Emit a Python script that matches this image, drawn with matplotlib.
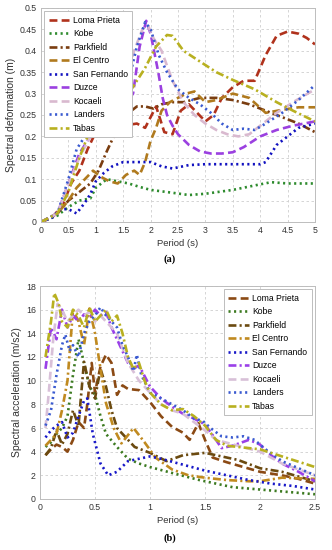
import matplotlib
matplotlib.use("Agg")
import matplotlib.pyplot as plt

NAMES = ["Loma Prieta", "Kobe", "Parkfield", "El Centro", "San Fernando",
         "Duzce", "Kocaeli", "Landers", "Tabas"]

# ---------------- Panel (a): spectral deformation (m) ----------------
A_LOMA_T = [0, 0.2, 0.4, 0.55, 0.7, 0.85, 1.0, 1.2, 1.5, 1.75, 1.9, 2.0, 2.1, 2.25, 2.4, 2.55, 2.7, 2.85,
            3.0, 3.15, 3.3, 3.5, 3.7, 3.9, 4.1, 4.3, 4.5, 4.7, 4.85, 5.0]
A_LOMA_SD = [0, 0.01, 0.04, 0.09, 0.12, 0.17, 0.21, 0.22, 0.225, 0.23, 0.22, 0.245, 0.27, 0.21, 0.205, 0.26,
             0.275, 0.255, 0.235, 0.25, 0.29, 0.315, 0.33, 0.33, 0.39, 0.435, 0.445, 0.44, 0.43, 0.415]
A_KOBE_T = [0, 0.3, 0.5, 0.7, 0.9, 1.0, 1.2, 1.4, 1.6, 1.8, 2.0, 2.3, 2.7, 3.0, 3.5, 4.0, 4.2, 4.5, 5.0]
A_KOBE_SD = [0, 0.015, 0.035, 0.05, 0.055, 0.08, 0.1, 0.095, 0.09, 0.082, 0.075, 0.07, 0.063, 0.066, 0.075,
             0.088, 0.093, 0.09, 0.09]
A_PARK_T = [0, 0.3, 0.5, 0.7, 0.9, 1.05, 1.2, 1.4, 1.6, 1.75, 1.9, 2.05, 2.2, 2.4, 2.6, 2.9, 3.2, 3.5, 3.8,
            4.1, 4.4, 4.7, 5.0]
A_PARK_SD = [0, 0.02, 0.05, 0.07, 0.09, 0.12, 0.165, 0.22, 0.255, 0.27, 0.27, 0.265, 0.275, 0.28, 0.28, 0.29,
             0.29, 0.285, 0.275, 0.26, 0.245, 0.23, 0.21]
A_ELC_T = [0, 0.3, 0.5, 0.65, 0.8, 0.95, 1.1, 1.25, 1.4, 1.55, 1.7, 1.8, 1.9, 2.0, 2.1, 2.2, 2.35, 2.5, 2.65,
           2.8, 3.0, 3.2, 3.5, 3.8, 4.1, 4.4, 4.7, 5.0]
A_ELC_SD = [0, 0.02, 0.05, 0.08, 0.1, 0.12, 0.105, 0.095, 0.09, 0.11, 0.12, 0.11, 0.14, 0.19, 0.22, 0.26, 0.28,
            0.29, 0.3, 0.305, 0.28, 0.285, 0.3, 0.29, 0.255, 0.262, 0.268, 0.268]
A_SANF_T = [0, 0.2, 0.35, 0.5, 0.65, 0.8, 0.9, 1.0, 1.15, 1.3, 1.5, 1.8, 2.0, 2.2, 2.4, 2.7, 3.0, 3.5, 4.0,
            4.1, 4.3, 4.5, 4.7, 5.0]
A_SANF_SD = [0, 0.01, 0.03, 0.03, 0.02, 0.045, 0.065, 0.095, 0.115, 0.13, 0.14, 0.14, 0.14, 0.13, 0.125,
             0.133, 0.135, 0.135, 0.135, 0.14, 0.18, 0.2, 0.22, 0.23]
A_DUZ_T = [0, 0.3, 0.5, 0.7, 0.9, 1.1, 1.3, 1.5, 1.68, 1.8, 1.92, 2.0, 2.14, 2.22, 2.3, 2.4, 2.5, 2.7, 2.9,
           3.1, 3.3, 3.5, 3.7, 4.0, 4.3, 4.6, 5.0]
A_DUZ_SD = [0, 0.02, 0.09, 0.16, 0.2, 0.22, 0.25, 0.27, 0.3, 0.41, 0.47, 0.44, 0.35, 0.29, 0.25, 0.225, 0.205,
            0.18, 0.165, 0.16, 0.16, 0.163, 0.175, 0.2, 0.215, 0.225, 0.235]
A_KOC_T = [0, 0.3, 0.5, 0.7, 0.9, 1.1, 1.3, 1.5, 1.7, 1.85, 1.95, 2.05, 2.2, 2.4, 2.6, 2.8, 3.0, 3.2, 3.4,
           3.6, 3.8, 4.0, 4.3, 4.6, 5.0]
A_KOC_SD = [0, 0.02, 0.09, 0.15, 0.2, 0.22, 0.26, 0.32, 0.4, 0.45, 0.46, 0.43, 0.4, 0.33, 0.28, 0.25, 0.23,
            0.215, 0.205, 0.2, 0.205, 0.225, 0.255, 0.28, 0.31]
A_LAND_T = [0, 0.3, 0.5, 0.65, 0.85, 1.0, 1.2, 1.4, 1.6, 1.75, 1.9, 2.0, 2.15, 2.3, 2.5, 2.7, 2.9, 3.1, 3.3,
            3.5, 3.7, 3.9, 4.1, 4.4, 4.7, 5.0]
A_LAND_SD = [0, 0.02, 0.1, 0.17, 0.21, 0.22, 0.24, 0.27, 0.33, 0.41, 0.467, 0.45, 0.39, 0.35, 0.31, 0.29,
             0.275, 0.255, 0.23, 0.215, 0.218, 0.215, 0.23, 0.255, 0.285, 0.32]
A_TAB_T = [0, 0.3, 0.5, 0.7, 0.85, 1.0, 1.3, 1.6, 1.9, 2.1, 2.3, 2.4, 2.6, 2.9, 3.2, 3.5, 3.9, 4.3, 4.6, 5.0]
A_TAB_SD = [0, 0.02, 0.07, 0.15, 0.2, 0.22, 0.26, 0.3, 0.36, 0.41, 0.437, 0.435, 0.4, 0.375, 0.35, 0.332,
            0.31, 0.28, 0.26, 0.235]

# ---------------- Panel (b): spectral acceleration (m/s2) ----------------
B_LOMA_T = [0.05, 0.1, 0.15, 0.2, 0.25, 0.3, 0.35, 0.4, 0.43, 0.47, 0.5, 0.55, 0.6, 0.65, 0.7, 0.75, 0.8, 0.9,
            1.0, 1.1, 1.2, 1.3, 1.36, 1.44, 1.5, 1.57, 1.7, 1.85, 2.0, 2.2, 2.35, 2.5]
B_LOMA_SA = [3.7, 4.2, 4.6, 4.4, 4.0, 5.0, 6.5, 6.0, 8.0, 11.5, 9.0, 11.2, 12.2, 11.5, 8.8, 9.6, 9.3, 9.2, 8.2,
             7.0, 6.1, 5.6, 5.0, 6.4, 5.0, 3.5, 3.1, 2.7, 2.3, 2.0, 1.7, 1.3]
B_KOBE_T = [0.05, 0.1, 0.15, 0.2, 0.25, 0.3, 0.35, 0.4, 0.45, 0.5, 0.55, 0.6, 0.7, 0.8, 0.9, 1.0, 1.2, 1.45,
            1.75, 2.0, 2.25, 2.5]
B_KOBE_SA = [4.4, 4.8, 5.5, 6.0, 7.0, 10.5, 13.5, 11.5, 9.5, 8.8, 7.0, 5.5, 4.4, 3.4, 3.0, 2.7, 2.2, 1.6, 1.0,
             0.8, 0.6, 0.4]
B_PARK_T = [0.05, 0.1, 0.15, 0.2, 0.25, 0.3, 0.35, 0.4, 0.45, 0.5, 0.55, 0.6, 0.65, 0.7, 0.8, 0.86, 1.0, 1.15,
            1.3, 1.5, 1.6, 1.8, 2.0, 2.2, 2.5]
B_PARK_SA = [3.7, 4.3, 5.8, 4.6, 5.5, 7.5, 6.2, 11.6, 9.5, 8.5, 11.0, 9.5, 7.5, 6.0, 5.0, 4.4, 3.9, 3.2, 3.7,
             3.9, 3.7, 3.3, 2.6, 2.3, 1.5]
B_ELC_T = [0.05, 0.1, 0.15, 0.2, 0.25, 0.3, 0.35, 0.4, 0.45, 0.5, 0.55, 0.6, 0.67, 0.74, 0.8, 0.85, 0.95, 1.05,
           1.2, 1.35, 1.5, 1.7, 1.9, 2.0, 2.2, 2.5]
B_ELC_SA = [4.5, 5.0, 5.5, 7.5, 10.0, 16.0, 15.0, 13.0, 16.1, 14.0, 11.0, 8.1, 6.0, 4.7, 5.4, 6.0, 4.8, 3.5,
            2.5, 2.0, 1.8, 1.6, 1.5, 1.5, 1.8, 1.7]
B_SANF_T = [0.05, 0.1, 0.15, 0.2, 0.25, 0.3, 0.35, 0.4, 0.43, 0.48, 0.55, 0.62, 0.7, 0.8, 0.9, 1.0, 1.1, 1.3,
            1.5, 1.7, 1.9, 2.1, 2.3, 2.5]
B_SANF_SA = [5.2, 5.8, 6.2, 6.5, 5.2, 5.6, 7.0, 8.3, 8.5, 5.5, 3.0, 2.0, 2.3, 3.2, 3.4, 3.6, 3.4, 2.9, 2.4,
             2.0, 1.6, 1.3, 1.1, 0.8]
B_DUZ_T = [0.05, 0.1, 0.15, 0.2, 0.25, 0.3, 0.35, 0.4, 0.45, 0.5, 0.55, 0.6, 0.65, 0.7, 0.75, 0.8, 0.85, 0.9,
           1.0, 1.1, 1.2, 1.3, 1.4, 1.5, 1.6, 1.65, 1.75, 1.9, 2.0, 2.1, 2.2, 2.35, 2.5]
B_DUZ_SA = [11.0, 14.5, 13.5, 16.0, 14.5, 15.5, 15.0, 15.6, 15.3, 16.0, 15.5, 15.8, 14.5, 13.5, 12.5, 11.5,
            11.0, 11.3, 9.5, 8.5, 7.8, 7.2, 6.8, 6.3, 5.0, 4.3, 4.5, 5.0, 4.6, 3.7, 3.0, 2.3, 1.5]
B_KOC_T = [0.05, 0.08, 0.12, 0.16, 0.2, 0.25, 0.3, 0.35, 0.4, 0.45, 0.5, 0.55, 0.6, 0.7, 0.8, 0.9, 1.0, 1.1,
           1.2, 1.3, 1.4, 1.5, 1.6, 1.8, 2.0, 2.2, 2.5]
B_KOC_SA = [6.0, 9.0, 13.5, 16.5, 16.0, 15.0, 15.5, 16.0, 15.5, 15.8, 15.0, 15.5, 15.0, 14.0, 11.5, 10.0, 9.0,
            8.0, 7.5, 7.2, 6.5, 5.8, 5.0, 4.5, 4.0, 3.0, 2.0]
B_LAND_T = [0.05, 0.1, 0.15, 0.2, 0.23, 0.27, 0.3, 0.35, 0.4, 0.45, 0.5, 0.55, 0.6, 0.65, 0.7, 0.75, 0.8, 0.85,
            0.88, 0.92, 1.0, 1.1, 1.2, 1.3, 1.4, 1.48, 1.55, 1.65, 1.75, 1.85, 1.95, 2.05, 2.2, 2.35, 2.5]
B_LAND_SA = [6.2, 7.5, 10.5, 13.0, 13.9, 12.5, 13.0, 12.0, 14.0, 15.0, 15.5, 16.2, 15.5, 15.0, 14.5, 13.0,
             12.0, 10.8, 12.2, 10.5, 9.0, 8.5, 8.0, 7.5, 6.8, 6.6, 6.0, 5.3, 5.2, 5.3, 5.0, 4.2, 3.2, 2.6, 2.0]
B_TAB_T = [0.05, 0.1, 0.13, 0.17, 0.2, 0.25, 0.3, 0.35, 0.4, 0.45, 0.5, 0.55, 0.6, 0.65, 0.7, 0.75, 0.8, 0.85,
           0.9, 0.95, 1.0, 1.1, 1.2, 1.3, 1.4, 1.5, 1.6, 1.7, 1.8, 2.0, 2.2, 2.5]
B_TAB_SA = [12.0, 15.0, 17.4, 16.5, 15.0, 14.5, 16.0, 15.5, 14.5, 16.2, 15.0, 15.5, 16.0, 15.0, 15.5, 14.0,
            12.0, 11.0, 11.5, 10.0, 9.0, 8.0, 7.5, 7.6, 7.0, 6.2, 5.0, 4.5, 4.4, 4.2, 3.6, 2.7]

A_TICKS_X = [0, 0.5, 1, 1.5, 2, 2.5, 3, 3.5, 4, 4.5, 5]
A_TICKS_Y = [0, 0.05, 0.1, 0.15, 0.2, 0.25, 0.3, 0.35, 0.4, 0.45, 0.5]
B_TICKS_X = [0, 0.5, 1, 1.5, 2, 2.5]
B_TICKS_Y = [0, 2, 4, 6, 8, 10, 12, 14, 16, 18]

plt.rcParams['font.family'] = ['Liberation Sans', 'DejaVu Sans']

DASH = (0, (3.0, 1.6))
DOT = (0, (0.8, 1.3))
DASHDOT = (0, (3.0, 1.2, 0.8, 1.2))

a_series = [(A_LOMA_T, A_LOMA_SD), (A_KOBE_T, A_KOBE_SD), (A_PARK_T, A_PARK_SD), (A_ELC_T, A_ELC_SD),
            (A_SANF_T, A_SANF_SD), (A_DUZ_T, A_DUZ_SD), (A_KOC_T, A_KOC_SD), (A_LAND_T, A_LAND_SD),
            (A_TAB_T, A_TAB_SD)]
a_colors = ["#b0321c", "#2e8b2e", "#7a3d10", "#b07a1e", "#1212c0", "#9b40e0", "#d9b9cf", "#3a5ad0", "#b8b020"]
a_styles = [DASH, DOT, DASHDOT, DASH, DOT, DASH, DASH, DOT, DASHDOT]

b_series = [(B_LOMA_T, B_LOMA_SA), (B_KOBE_T, B_KOBE_SA), (B_PARK_T, B_PARK_SA), (B_ELC_T, B_ELC_SA),
            (B_SANF_T, B_SANF_SA), (B_DUZ_T, B_DUZ_SA), (B_KOC_T, B_KOC_SA), (B_LAND_T, B_LAND_SA),
            (B_TAB_T, B_TAB_SA)]
b_colors = ["#8b4a14", "#3c7a20", "#6b4a10", "#c08a20", "#1818c8", "#9a40e8", "#d8c0d8", "#3a5ad0", "#b8b020"]
b_styles = [DASH, DOT, DASHDOT, DASHDOT, DOT, DASHDOT, DASH, DOT, DASHDOT]

fig = plt.figure(figsize=(3.32, 5.5), dpi=100)
ax_a = fig.add_axes([41 / 332, 1 - 222 / 550, 274 / 332, 214 / 550])
ax_b = fig.add_axes([40 / 332, 1 - 499 / 550, 275 / 332, 213 / 550])


def style_axes(ax, xt, yt, xlim, ylim, ylabel):
    ax.set_xlim(*xlim)
    ax.set_ylim(*ylim)
    ax.set_xticks(xt)
    ax.set_yticks(yt)
    ax.set_xticklabels(["%g" % v for v in xt])
    ax.set_yticklabels(["%g" % v for v in yt])
    ax.tick_params(labelsize=6.3, length=0, pad=3, colors="#333333")
    ax.grid(True, color="#cfcfcf", linestyle=(0, (3, 3)), linewidth=0.6)
    ax.set_axisbelow(True)
    for s in ax.spines.values():
        s.set_color("#bdbdbd")
        s.set_linewidth(0.7)
    ax.set_xlabel("Period (s)", fontsize=6.8, color="#333333", labelpad=3)
    ax.set_ylabel(ylabel, fontsize=7.5, color="#333333", labelpad=3)


for (t, v), c, ls, n in zip(a_series, a_colors, a_styles, NAMES):
    ax_a.plot(t, v, color=c, linestyle=ls, linewidth=1.9, label=n)
for (t, v), c, ls, n in zip(b_series, b_colors, b_styles, NAMES):
    ax_b.plot(t, v, color=c, linestyle=ls, linewidth=1.9, label=n)

style_axes(ax_a, A_TICKS_X, A_TICKS_Y, (0, 5), (0, 0.5), "Spectral deformation (m)")
style_axes(ax_b, B_TICKS_X, B_TICKS_Y, (0, 2.5), (0, 18), "Spectral acceleration (m/s2)")

leg_kw = dict(fontsize=6.2, handlelength=2.4, handletextpad=0.4, labelspacing=0.52, borderpad=0.5,
              fancybox=False, framealpha=1, edgecolor="#bdbdbd")
la = ax_a.legend(loc="upper left", borderaxespad=0.4, **leg_kw)
lb = ax_b.legend(loc="upper right", borderaxespad=0.4, **leg_kw)
for lg in (la, lb):
    lg.get_frame().set_linewidth(0.7)

fig.text(170 / 332, 1 - 259 / 550, "(a)", ha="center", va="center", fontsize=7.5,
         family=["Liberation Serif", "DejaVu Serif"], fontweight="bold")
fig.text(170 / 332, 1 - 538 / 550, "(b)", ha="center", va="center", fontsize=7.5,
         family=["Liberation Serif", "DejaVu Serif"], fontweight="bold")

fig.savefig("out.png", dpi=100)
